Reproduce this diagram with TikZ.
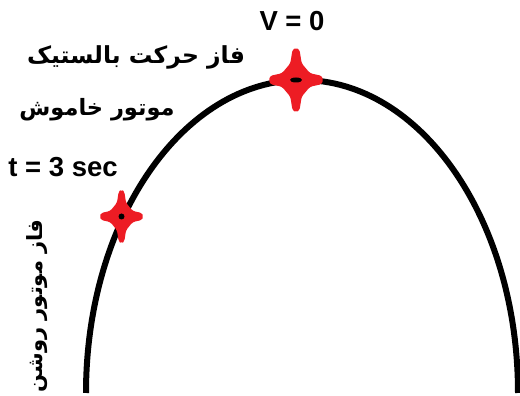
\documentclass[tikz,border=0pt]{standalone}
\usepackage{fontspec}
\setmainfont{Liberation Sans}
\newfontfamily\arabicfont[Script=Arabic]{DejaVu Sans}
\TeXXeTstate=1
\definecolor{starred}{RGB}{237,28,36}
\tikzset{
  lbl/.style={font=\bfseries\fontsize{27.5}{32}\selectfont, inner sep=0pt},
  fa/.style={font=\arabicfont\bfseries\fontsize{#1}{28}\selectfont, inner sep=0pt},
  traj/.style={line width=6pt, black},
  starmark/.style={fill=starred, draw=none, rounded corners=2.5pt},
  centerdot/.style={fill=black, draw=none},
}
\begin{document}
\begin{tikzpicture}[x=1pt,y=1pt]
\useasboundingbox (0,0) rectangle (520,396);
\draw[traj] (86,3) arc[start angle=180,end angle=0,x radius=216pt,y radius=313pt];
\coordinate (top) at (296,316);
\coordinate (cut) at (121.5,179.5);
\fill[starmark, shift={(top)}, xscale=27, yscale=32]
  (0,1) -- (0.13,0.95) -- (0.21,0.52) -- (0.52,0.21) -- (0.96,0.13) -- (1,0)
  -- (0.96,-0.13) -- (0.52,-0.21) -- (0.21,-0.52) -- (0.13,-0.95) -- (0,-1)
  -- (-0.13,-0.95) -- (-0.21,-0.52) -- (-0.52,-0.21) -- (-0.96,-0.13) -- (-1,0)
  -- (-0.96,0.13) -- (-0.52,0.21) -- (-0.21,0.52) -- (-0.13,0.95) -- cycle;
\fill[starmark, shift={(cut)}, xscale=21.5, yscale=26.5]
  (0,1) -- (0.13,0.95) -- (0.21,0.52) -- (0.52,0.21) -- (0.96,0.13) -- (1,0)
  -- (0.96,-0.13) -- (0.52,-0.21) -- (0.21,-0.52) -- (0.13,-0.95) -- (0,-1)
  -- (-0.13,-0.95) -- (-0.21,-0.52) -- (-0.52,-0.21) -- (-0.96,-0.13) -- (-1,0)
  -- (-0.96,0.13) -- (-0.52,0.21) -- (-0.21,0.52) -- (-0.13,0.95) -- cycle;
\fill[centerdot] (top) ellipse[x radius=6pt, y radius=2.5pt];
\fill[centerdot] (cut) circle[radius=3pt];
\node[lbl] (v0) at (292,375) {V = 0};
\node[fa=23.5] (ballistic) at (136,339) {\beginR فاز حرکت بالستیک\endR};
\node[fa=22.5] (off) at (97,286) {\beginR موتور خاموش\endR};
\node[lbl] (t3) at (63,229) {t = 3 sec};
\node[fa=21, rotate=90] (on) at (37,90) {\beginR فاز موتور روشن\endR};
\end{tikzpicture}
\end{document}
